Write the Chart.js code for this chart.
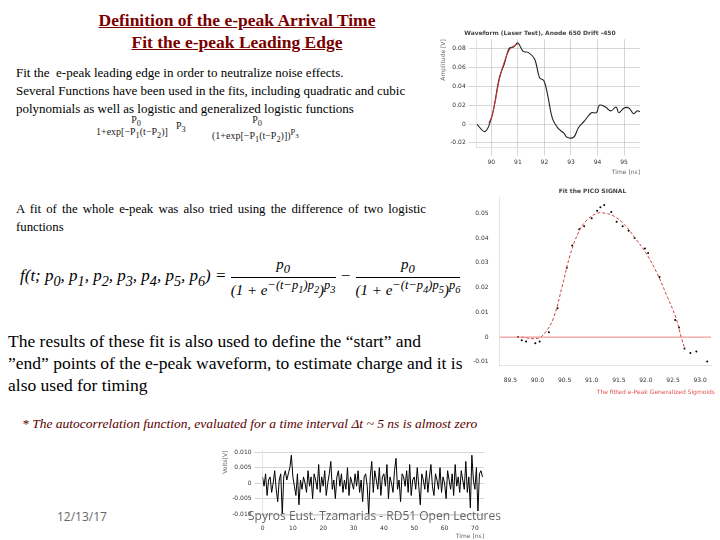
<!DOCTYPE html>
<html>
<head>
<meta charset="utf-8">
<script src="https://cdn.jsdelivr.net/npm/chart.js@4.4.0/dist/chart.umd.min.js"></script>
<style>
  body { margin: 0; background: #fff; }
  #slide { position: relative; width: 720px; height: 540px; overflow: hidden; font-family: "Liberation Serif", serif; }
  .abs { position: absolute; }
  .title { left: 0; width: 474px; text-align: center; color: #7a0000; font-weight: bold; font-size: 17.5px; text-decoration: underline; }
  .para { left: 16px; width: 410px; font-size: 13px; line-height: 18px; color: #000; }
  .small { font-size: 10px; color: #222; }
  .box { position: absolute; }
</style>
</head>
<body>
<div id="slide">
  <div class="abs title" style="top:10px">Definition of the e-peak Arrival Time</div>
  <div class="abs title" style="top:32px">Fit the e-peak Leading Edge</div>

  <div class="abs para" style="top:64px">Fit the&nbsp; e-peak leading edge in order to neutralize noise effects.<br>
    Several Functions have been used in the fits, including quadratic and cubic polynomials as well as logistic and generalized logistic functions</div>

  <div class="abs small" style="left:96px;top:114px;width:80px;text-align:center">P<sub>0</sub></div>
  <div class="abs small" style="left:96px;top:126px">1+exp[&minus;P<sub>1</sub>(t&minus;P<sub>2</sub>)]</div>
  <div class="abs small" style="left:176px;top:120px">P<sub>3</sub></div>
  <div class="abs small" style="left:212px;top:114px;width:90px;text-align:center">P<sub>0</sub></div>
  <div class="abs small" style="left:212px;top:128px">(1+exp[&minus;P<sub>1</sub>(t&minus;P<sub>2</sub>)])<sup>P<sub>3</sub></sup></div>

  <div class="abs para" style="top:200px;text-align:justify;font-size:12.8px">A fit of the whole e-peak was also tried using the difference of two logistic functions</div>

  <div class="abs" style="left:20px;top:256px;font-size:17px;font-style:italic;white-space:nowrap">
    f(t; p<sub>0</sub>, p<sub>1</sub>, p<sub>2</sub>, p<sub>3</sub>, p<sub>4</sub>, p<sub>5</sub>, p<sub>6</sub>) =
    <span style="display:inline-block;text-align:center;vertical-align:middle;font-size:15px">
      <span style="display:block;border-bottom:1px solid #000">p<sub>0</sub></span>
      <span style="display:block">(1 + e<sup>&minus;(t&minus;p<sub>1</sub>)p<sub>2</sub></sup>)<sup>p<sub>3</sub></sup></span>
    </span> &minus;
    <span style="display:inline-block;text-align:center;vertical-align:middle;font-size:15px">
      <span style="display:block;border-bottom:1px solid #000">p<sub>0</sub></span>
      <span style="display:block">(1 + e<sup>&minus;(t&minus;p<sub>4</sub>)p<sub>5</sub></sup>)<sup>p<sub>6</sub></sup></span>
    </span>
  </div>

  <div class="abs" style="left:8px;top:330px;width:458px;font-size:17.5px;line-height:22px">The results of these fit is also used to define the &ldquo;start&rdquo; and &rdquo;end&rdquo; points of the e-peak waveform, to estimate charge and it is also used for timing</div>

  <div class="abs" style="left:22px;top:416px;font-size:13.5px;font-style:italic;color:#5a0000;white-space:nowrap">* The autocorrelation function, evaluated for a time interval &Delta;t ~ 5 ns is almost zero</div>

  <div class="box" style="left:440px;top:28px;width:200px;height:148px"><canvas id="wave"></canvas></div>
  <div class="box" style="left:470px;top:186px;width:245px;height:212px"><canvas id="fit"></canvas></div>
  <div class="box" style="left:222px;top:444px;width:262px;height:96px"><canvas id="noise"></canvas></div>

  <div class="abs" style="left:57px;top:508px;font-family:'Open Sans',sans-serif;font-size:12px;color:#666">12/13/17</div>
  <div class="abs" style="left:248px;top:507px;font-family:'Open Sans',sans-serif;font-size:12px;color:#666;white-space:nowrap">Spyros Eust. Tzamarias - RD51 Open Lectures</div>
</div>

<script>
// waveform (laser test)
const waveT = [89.45, 89.76, 90.0, 90.12, 90.3, 90.49, 90.67, 90.85, 91.0, 91.2, 91.39, 91.63, 91.82, 91.98, 92.12, 92.3, 92.5, 92.74, 92.85, 93.1, 93.28, 93.5, 93.77, 93.96, 94.07, 94.3, 94.5, 94.7, 94.8, 95.0, 95.18, 95.36, 95.5, 95.6];
const waveV = [0.0, -0.008, 0.006, 0.021, 0.049, 0.064, 0.080, 0.082, 0.086, 0.077, 0.076, 0.069, 0.049, 0.046, 0.031, 0.006, -0.004, -0.010, -0.014, -0.014, -0.004, 0.003, 0.012, 0.012, 0.020, 0.018, 0.014, 0.018, 0.012, 0.017, 0.017, 0.011, 0.014, 0.013];
const edgeT = [89.9, 90.0, 90.12, 90.3, 90.49, 90.67, 90.85, 91.0];
const edgeV = [0.001, 0.007, 0.020, 0.047, 0.066, 0.078, 0.083, 0.085];
const waveTicks = [90, 91, 92, 93, 94, 95];

// whole e-peak fit
const fitT = [89.64, 89.71, 89.79, 89.96, 90.04, 90.21, 90.37, 90.54, 90.64, 90.77, 90.86, 91.0, 91.1, 91.16, 91.23, 91.36, 91.46, 91.57, 91.68, 91.79, 91.98, 92.04, 92.25, 92.54, 92.61, 92.71, 92.82, 92.93, 93.13];
const fitV = [0.0, -0.0013, -0.0018, -0.0025, -0.0018, 0.002, 0.0117, 0.028, 0.037, 0.0436, 0.0448, 0.048, 0.051, 0.0524, 0.0533, 0.0505, 0.0466, 0.0448, 0.043, 0.040, 0.0358, 0.034, 0.0243, 0.0069, 0.0039, -0.0046, -0.0064, -0.0058, -0.0098];
const curveT = [89.7, 90.0, 90.15, 90.3, 90.45, 90.6, 90.75, 90.9, 91.1, 91.25, 91.4, 91.6, 91.8, 92.0, 92.2, 92.4, 92.55, 92.65, 92.72];
const curveV = [0.0, -0.0005, 0.002, 0.008, 0.020, 0.033, 0.042, 0.047, 0.050, 0.050, 0.049, 0.0455, 0.040, 0.034, 0.026, 0.016, 0.008, 0.0, -0.005];
const fitTicks = [89.5, 90, 90.5, 91, 91.5, 92, 92.5, 93];

// noise (x 1e-3 V), one sample every 0.5 ns
const noiseStep = 0.5;
const noiseV = [2, -1, 3, -4, 1, 2, -3, 0, 4, -2, -6, 1, 3, -10, 2, 4, 1, 3, 5, 9, 2, -1, -4, 3, -7, 1, -2, 2, 0, -3, 4, -1, 2, -5, 3, 1, -2, 6, -3, 2, -1, 4, -4, 0, 3, 7, -2, 1, -5, 2, 4, -1, 3, -3, 1, -2, 5, -4, 2, 0, -2, 3, -1, 4, -3, 1, -6, 2, 3, -1, -10, 2, 7, -3, 4, 1, -2, 5, -4, 2, 3, -1, 6, -5, 2, 0, -3, 4, 8, -2, 1, -6, 3, 2, -1, 4, -3, 6, -4, 1, 2, -2, 5, -1, -7, 3, 1, -2, 4, -3, 2, 6, -1, -4, 3, 1, -2, 5, -3, 2, 0, -5, 4, 1, -2, 3, -4, 6, -1, 2, -3, 4, 1, -2, 7, -3, 2, -8, 9, 1, -2, 5, -9, 3, 4, 2];

const tiny = { family: 'DejaVu Sans', size: 6 };
const gridDash = { color: '#bbb', lineWidth: 0.6 };

function xy(ts, vs) {
    return ts.map((t, i) => ({ x: t, y: vs[i] }));
}

function waveChart() {
    const ctx = document.getElementById('wave').getContext('2d');
    new Chart(ctx, {
        type: 'line',
        data: {
            datasets: [
                { data: xy(edgeT, edgeV), borderColor: '#e03030', borderWidth: 1, pointRadius: 0, tension: 0.4 },
                { data: xy(waveT, waveV), borderColor: '#222', borderWidth: 1.1, pointRadius: 0, tension: 0.4 }
            ]
        },
        options: {
            animation: false, responsive: true, maintainAspectRatio: false,
            plugins: { legend: { display: false }, tooltip: { enabled: false },
                title: { display: true, text: 'Waveform (Laser Test), Anode 650 Drift -450', font: tiny, color: '#444', padding: 2 } },
            scales: {
                x: { type: 'linear', min: 89.45, max: 95.6,
                    afterBuildTicks: a => { a.ticks = waveTicks.map(v => ({ value: v })); },
                    ticks: { font: tiny, color: '#333', maxRotation: 0 },
                    grid: { ...gridDash, borderDash: [2, 2] },
                    title: { display: true, text: 'Time [ns]', font: tiny, align: 'end', padding: 0 } },
                y: { min: -0.025, max: 0.09,
                    afterBuildTicks: a => { a.ticks = [-0.02, 0, 0.02, 0.04, 0.06, 0.08].map(v => ({ value: v })); },
                    ticks: { font: tiny, color: '#333', callback: v => v === 0 ? '0' : v.toFixed(2) },
                    grid: { ...gridDash },
                    title: { display: true, text: 'Amplitude [V]', font: tiny, align: 'end', padding: 0 } }
            }
        }
    });
}

function fitChart() {
    const ctx = document.getElementById('fit').getContext('2d');
    new Chart(ctx, {
        type: 'line',
        data: {
            datasets: [
                { data: [{ x: 89.3, y: 0 }, { x: 93.2, y: 0 }], borderColor: '#f08080', borderWidth: 1, pointRadius: 0 },
                { data: xy(curveT, curveV), borderColor: '#d04040', borderWidth: 1, borderDash: [3, 2], pointRadius: 0, tension: 0.4 },
                { data: xy(fitT, fitV), showLine: false, pointRadius: 1, pointBackgroundColor: '#000', pointBorderWidth: 0 }
            ]
        },
        options: {
            animation: false, responsive: true, maintainAspectRatio: false,
            plugins: { legend: { display: false }, tooltip: { enabled: false },
                title: { display: true, text: 'Fit the PICO SIGNAL', font: tiny, color: '#444', padding: 2 },
                subtitle: { display: true, position: 'bottom', align: 'end', text: 'The fitted e-Peak Generalized Sigmoids', font: tiny, color: '#e05050', padding: 2 } },
            scales: {
                x: { type: 'linear', min: 89.3, max: 93.2,
                    afterBuildTicks: a => { a.ticks = fitTicks.map(v => ({ value: v })); },
                    ticks: { font: tiny, color: '#333', maxRotation: 0 },
                    grid: { display: false } },
                y: { min: -0.0115, max: 0.0565,
                    afterBuildTicks: a => { a.ticks = [-0.01, 0, 0.01, 0.02, 0.03, 0.04, 0.05].map(v => ({ value: v })); },
                    ticks: { font: tiny, color: '#333', callback: v => v === 0 ? '0' : v.toFixed(2) },
                    grid: { display: false } }
            }
        }
    });
}

function noiseChart() {
    const ctx = document.getElementById('noise').getContext('2d');
    const pts = noiseV.map((v, i) => ({ x: i * noiseStep, y: v / 1000 }));
    new Chart(ctx, {
        type: 'line',
        data: { datasets: [{ data: pts, borderColor: '#000', borderWidth: 1, pointRadius: 0 }] },
        options: {
            animation: false, responsive: true, maintainAspectRatio: false,
            plugins: { legend: { display: false }, tooltip: { enabled: false } },
            scales: {
                x: { type: 'linear', min: 0, max: 73,
                    afterBuildTicks: a => { a.ticks = [0, 10, 20, 30, 40, 50, 60, 70].map(v => ({ value: v })); },
                    ticks: { font: tiny, color: '#333', maxRotation: 0, padding: 1 },
                    grid: { display: false },
                    title: { display: true, text: 'Time [ns]', font: tiny, align: 'end', padding: 0 } },
                y: { min: -0.0105, max: 0.0105,
                    afterBuildTicks: a => { a.ticks = [-0.01, -0.005, 0, 0.005, 0.01].map(v => ({ value: v })); },
                    ticks: { font: tiny, color: '#333', callback: v => v === 0 ? '0' : v.toFixed(3) },
                    grid: { ...gridDash },
                    title: { display: true, text: 'Volts[V]', font: tiny, align: 'end', padding: 0 } }
            }
        }
    });
}

waveChart();
fitChart();
noiseChart();
</script>
</body>
</html>
